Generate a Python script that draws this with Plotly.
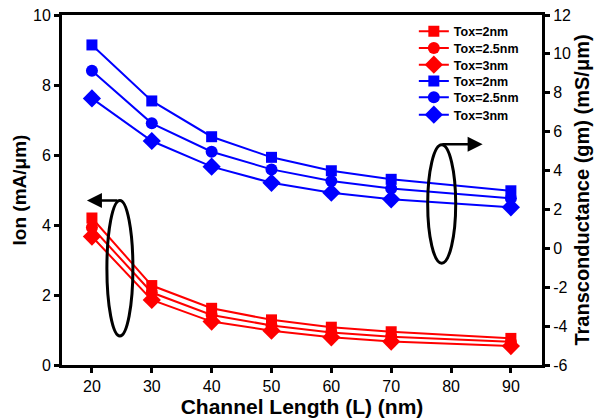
import plotly.graph_objects as go

L = [20, 30, 40, 50, 60, 70, 90]
ion_2 = [4.20, 2.27, 1.62, 1.29, 1.08, 0.95, 0.76]
ion_25 = [3.93, 2.07, 1.43, 1.13, 0.93, 0.81, 0.66]
ion_3 = [3.67, 1.86, 1.24, 0.98, 0.79, 0.67, 0.54]
gm_2 = [10.46, 7.58, 5.74, 4.68, 3.99, 3.55, 2.96]
gm_25 = [9.13, 6.43, 4.97, 4.06, 3.46, 3.08, 2.57]
gm_3 = [7.71, 5.52, 4.20, 3.37, 2.86, 2.52, 2.11]
labels = ["Tox=2nm", "Tox=2.5nm", "Tox=3nm"]
x_ticks = [20, 30, 40, 50, 60, 70, 80, 90]
y_ticks = [0, 2, 4, 6, 8, 10]
y2_ticks = [-6, -4, -2, 0, 2, 4, 6, 8, 10, 12]
y2_ticktext = ["-6", "-4", "-2", "0", "2", "4", "6", "8", "10", "12"]
symbols = ["square", "circle", "diamond"]
sizes = [11, 12, 14]

FONT = "Arial, Liberation Sans, sans-serif"
fig = go.Figure()
legend_ids = ["legend", "legend2", "legend3", "legend4", "legend5", "legend6"]
k = 0
for ys, lab, sym, sz in zip([ion_2, ion_25, ion_3], labels, symbols, sizes):
    fig.add_trace(go.Scatter(x=L, y=ys, name=lab, mode="lines+markers", legend=legend_ids[k],
                             line=dict(color="#ff0000", width=2),
                             marker=dict(symbol=sym, size=sz, color="#ff0000")))
    k += 1
for ys, lab, sym, sz in zip([gm_2, gm_25, gm_3], labels, symbols, sizes):
    fig.add_trace(go.Scatter(x=L, y=ys, name=lab, mode="lines+markers", yaxis="y2",
                             legend=legend_ids[k],
                             line=dict(color="#0000ff", width=2),
                             marker=dict(symbol=sym, size=sz, color="#0000ff")))
    k += 1

axis_common = dict(showgrid=False, zeroline=False, showline=True, linecolor="black",
                   linewidth=3, ticks="outside", ticklen=5, tickwidth=3, tickcolor="black",
                   automargin=False,
                   tickfont=dict(family=FONT, size=16, color="black"))

fig.update_layout(
    width=603, height=419,
    margin=dict(l=62, r=61, t=15, b=54),
    plot_bgcolor="white", paper_bgcolor="white",
    font=dict(family=FONT, color="black"),
    xaxis=dict(range=[15, 95.2], tickvals=x_ticks, mirror=True,
               title=dict(text="<b>Channel Length (L) (nm)</b>", font=dict(size=21), standoff=2),
               **axis_common),
    yaxis=dict(range=[0, 10], tickvals=y_ticks,
               title=dict(text="<b>Ion (mA/μm)</b>", font=dict(size=19), standoff=2),
               **axis_common),
    yaxis2=dict(range=[-6, 12], tickvals=y2_ticks, ticktext=y2_ticktext, overlaying="y", side="right",
                title=dict(text="<b>Transconductance (gm) (mS/μm)</b>", font=dict(size=20), standoff=3),
                **axis_common),
    showlegend=True,
)

row_px = [31.7, 48.3, 65, 81.3, 97.7, 115]
for lid, py in zip(legend_ids, row_px):
    fig.update_layout({lid: dict(x=0.733, y=1 - (py - 15) / 350, xanchor="left", yanchor="middle",
                                 bgcolor="rgba(0,0,0,0)", borderwidth=0,
                                 font=dict(family=FONT, size=12.5, color="black", weight="bold"))})

fig.add_shape(type="circle", xref="x", yref="y", x0=22.5, x1=26.85, y0=0.83, y1=4.70,
              line=dict(color="black", width=3))
fig.add_shape(type="circle", xref="x", yref="y", x0=76.1, x1=80.78, y0=2.91, y1=6.29,
              line=dict(color="black", width=3))
fig.add_annotation(x=19.17, y=4.70, ax=24.5, ay=4.70, xref="x", yref="y", axref="x", ayref="y",
                   text="", showarrow=True, arrowhead=2, arrowsize=1.2, arrowwidth=2.5, arrowcolor="black")
fig.add_annotation(x=85.28, y=6.31, ax=78.3, ay=6.31, xref="x", yref="y", axref="x", ayref="y",
                   text="", showarrow=True, arrowhead=2, arrowsize=1.2, arrowwidth=2.5, arrowcolor="black")

fig.write_html("out.html", config={"displayModeBar": False},
               post_script="document.body.style.margin='0';document.body.style.overflow='hidden';")
